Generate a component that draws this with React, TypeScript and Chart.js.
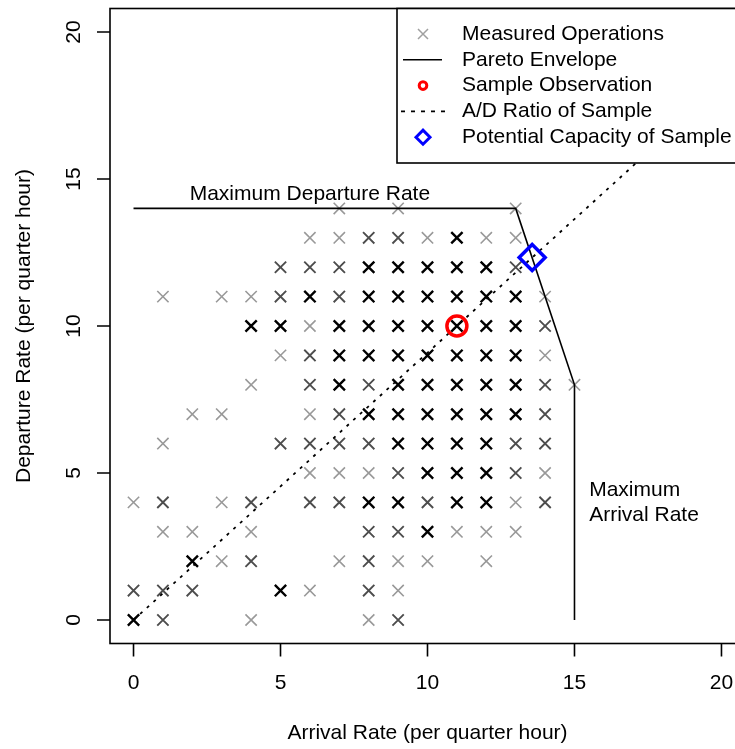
import React, { useEffect, useRef } from 'react';
import { Chart, registerables } from 'chart.js';

Chart.register(...registerables);

// ---------- data ----------
const xTicks = [0, 5, 10, 15, 20];
const yTicks = [0, 5, 10, 15, 20];

// measured operations [arrivals, departures], grouped by how often they occur (shade)
const lightOps: [number, number][] = [
  [7, 14], [9, 14], [13, 14],
  [6, 13], [7, 13], [10, 13], [12, 13], [13, 13],
  [1, 11], [3, 11], [4, 11], [14, 11],
  [6, 10],
  [5, 9], [14, 9],
  [4, 8], [15, 8],
  [2, 7], [3, 7], [6, 7],
  [1, 6],
  [6, 5], [7, 5], [8, 5], [14, 5],
  [0, 4], [3, 4], [13, 4],
  [1, 3], [2, 3], [4, 3], [11, 3], [12, 3], [13, 3],
  [3, 2], [7, 2], [9, 2], [10, 2], [12, 2],
  [6, 1], [9, 1],
  [4, 0], [8, 0],
];
const mediumOps: [number, number][] = [
  [8, 13], [9, 13],
  [5, 12], [6, 12], [7, 12], [13, 12],
  [5, 11], [7, 11],
  [14, 10],
  [6, 9],
  [6, 8], [8, 8], [14, 8],
  [7, 7], [14, 7],
  [5, 6], [6, 6], [7, 6], [8, 6], [13, 6], [14, 6],
  [9, 5], [13, 5],
  [1, 4], [4, 4], [6, 4], [7, 4], [10, 4], [14, 4],
  [8, 3], [9, 3],
  [4, 2], [8, 2],
  [0, 1], [1, 1], [2, 1], [8, 1],
  [1, 0], [9, 0],
];
const darkOps: [number, number][] = [
  [11, 13],
  [8, 12], [9, 12], [10, 12], [11, 12], [12, 12],
  [6, 11], [8, 11], [9, 11], [10, 11], [11, 11], [12, 11], [13, 11],
  [4, 10], [5, 10], [7, 10], [8, 10], [9, 10], [10, 10], [11, 10], [12, 10], [13, 10],
  [7, 9], [8, 9], [9, 9], [10, 9], [11, 9], [12, 9], [13, 9],
  [7, 8], [9, 8], [10, 8], [11, 8], [12, 8], [13, 8],
  [8, 7], [9, 7], [10, 7], [11, 7], [12, 7], [13, 7],
  [9, 6], [10, 6], [11, 6], [12, 6],
  [10, 5], [11, 5], [12, 5],
  [8, 4], [9, 4], [11, 4], [12, 4],
  [10, 3],
  [2, 2],
  [5, 1],
  [0, 0],
];
const paretoEnvelope: [number, number][] = [[0, 14], [13, 14], [15, 8], [15, 0]];
const adRatioLine: [number, number][] = [[0, 0], [22, 20]];
const sampleObservation: [number, number][] = [[11, 10]];
const potentialCapacity: [number, number][] = [[13.56, 12.33]];

const legendLabels = [
  'Measured Operations',
  'Pareto Envelope',
  'Sample Observation',
  'A/D Ratio of Sample',
  'Potential Capacity of Sample',
];
const xTitle = 'Arrival Rate (per quarter hour)';
const yTitle = 'Departure Rate (per quarter hour)';
const departureNote = 'Maximum Departure Rate';
const departureNotePos: [number, number] = [6, 14.5];
const arrivalNote = ['Maximum', 'Arrival Rate'];
const arrivalNotePos: [number, number] = [15.5, 4];

const FONT = '21px "Liberation Sans", Arial, Helvetica, sans-serif';

const toXY = (arr: [number, number][]) => arr.map(([x, y]) => ({ x, y }));

function crossRot(ctx: CanvasRenderingContext2D, cx: number, cy: number, h: number) {
  ctx.moveTo(cx - h, cy - h);
  ctx.lineTo(cx + h, cy + h);
  ctx.moveTo(cx + h, cy - h);
  ctx.lineTo(cx - h, cy + h);
}

const rPlotPlugin = {
  id: 'rPlot',
  afterDatasetsDraw(chart: any) {
    const { ctx, chartArea: a, scales } = chart;
    const x = scales.x;
    const y = scales.y;
    ctx.save();
    ctx.strokeStyle = '#000';
    ctx.lineWidth = 1.6;
    // box
    ctx.strokeRect(a.left, a.top, a.right - a.left + 20, a.bottom - a.top);
    // ticks
    ctx.beginPath();
    xTicks.forEach((v) => {
      const px = x.getPixelForValue(v);
      ctx.moveTo(px, a.bottom);
      ctx.lineTo(px, a.bottom + 13);
    });
    yTicks.forEach((v) => {
      const py = y.getPixelForValue(v);
      ctx.moveTo(a.left, py);
      ctx.lineTo(a.left - 13, py);
    });
    ctx.stroke();

    ctx.fillStyle = '#000';
    ctx.font = FONT;
    ctx.textAlign = 'center';
    ctx.textBaseline = 'alphabetic';
    xTicks.forEach((v) => ctx.fillText(String(v), x.getPixelForValue(v), a.bottom + 45));
    ctx.fillText(xTitle, x.getPixelForValue(10), a.bottom + 95);

    yTicks.forEach((v) => {
      ctx.save();
      ctx.translate(a.left - 30, y.getPixelForValue(v));
      ctx.rotate(-Math.PI / 2);
      ctx.fillText(String(v), 0, 0);
      ctx.restore();
    });
    ctx.save();
    ctx.translate(a.left - 80, y.getPixelForValue(10));
    ctx.rotate(-Math.PI / 2);
    ctx.fillText(yTitle, 0, 0);
    ctx.restore();

    // annotations
    ctx.textBaseline = 'middle';
    ctx.textAlign = 'center';
    ctx.fillText(departureNote, x.getPixelForValue(departureNotePos[0]), y.getPixelForValue(departureNotePos[1]));
    ctx.textAlign = 'left';
    const ax = x.getPixelForValue(arrivalNotePos[0]);
    const ay = y.getPixelForValue(arrivalNotePos[1]);
    ctx.fillText(arrivalNote[0], ax, ay - 12.5);
    ctx.fillText(arrivalNote[1], ax, ay + 12.5);
    ctx.restore();
  },
  afterDraw(chart: any) {
    const { ctx, chartArea: a } = chart;
    ctx.save();
    const left = 397;
    const top = a.top;
    const bottom = a.top + 154.5;
    ctx.fillStyle = '#fff';
    ctx.fillRect(left, top, 400, bottom - top);
    ctx.strokeStyle = '#000';
    ctx.lineWidth = 1.6;
    ctx.strokeRect(left, top, 400, bottom - top);

    const sx = 423;
    const tx = 462;
    const rows = legendLabels.map((_, i) => top + 25.5 + i * 25.8);

    // measured ops
    ctx.strokeStyle = '#a0a0a0';
    ctx.lineWidth = 1.5;
    ctx.beginPath();
    crossRot(ctx, sx, rows[0], 5);
    ctx.stroke();
    // pareto
    ctx.strokeStyle = '#000';
    ctx.lineWidth = 1.6;
    ctx.beginPath();
    ctx.moveTo(403, rows[1]);
    ctx.lineTo(442, rows[1]);
    ctx.stroke();
    // sample obs
    ctx.strokeStyle = '#ff0000';
    ctx.lineWidth = 3;
    ctx.beginPath();
    ctx.arc(sx, rows[2], 3.8, 0, Math.PI * 2);
    ctx.stroke();
    // ad ratio
    ctx.strokeStyle = '#000';
    ctx.lineWidth = 1.6;
    ctx.setLineDash([4, 6]);
    ctx.beginPath();
    ctx.moveTo(401, rows[3]);
    ctx.lineTo(445, rows[3]);
    ctx.stroke();
    ctx.setLineDash([]);
    // potential capacity
    ctx.strokeStyle = '#0000ff';
    ctx.lineWidth = 3;
    ctx.beginPath();
    ctx.moveTo(sx - 7, rows[4]);
    ctx.lineTo(sx, rows[4] - 7);
    ctx.lineTo(sx + 7, rows[4]);
    ctx.lineTo(sx, rows[4] + 7);
    ctx.closePath();
    ctx.stroke();

    ctx.fillStyle = '#000';
    ctx.font = FONT;
    ctx.textAlign = 'left';
    ctx.textBaseline = 'middle';
    legendLabels.forEach((t, i) => ctx.fillText(t, tx, rows[i]));
    ctx.restore();
  },
};

export default function App() {
  const ref = useRef<HTMLCanvasElement | null>(null);
  useEffect(() => {
    if (!ref.current) return;
    const transparent = 'rgba(0,0,0,0)';
    const chart = new Chart(ref.current, {
      type: 'scatter',
      data: {
        datasets: [
          {
            label: 'Potential Capacity of Sample',
            data: toXY(potentialCapacity),
            pointStyle: 'rectRot',
            pointRadius: 13,
            borderColor: '#0000ff',
            backgroundColor: transparent,
            borderWidth: 3.5,
            order: 1,
          },
          {
            label: 'Sample Observation',
            data: toXY(sampleObservation),
            pointStyle: 'circle',
            pointRadius: 10,
            borderColor: '#ff0000',
            backgroundColor: transparent,
            borderWidth: 3.5,
            order: 2,
          },
          {
            label: 'A/D Ratio of Sample',
            data: toXY(adRatioLine),
            showLine: true,
            pointRadius: 0,
            borderColor: '#000',
            borderWidth: 1.8,
            borderDash: [3, 6],
            order: 3,
          },
          {
            label: 'Pareto Envelope',
            data: toXY(paretoEnvelope),
            showLine: true,
            pointRadius: 0,
            borderColor: '#000',
            borderWidth: 1.6,
            order: 4,
          },
          {
            label: 'Measured Operations (frequent)',
            data: toXY(darkOps),
            pointStyle: 'crossRot',
            pointRadius: 8,
            borderColor: '#000000',
            borderWidth: 2.4,
            order: 5,
          },
          {
            label: 'Measured Operations (some)',
            data: toXY(mediumOps),
            pointStyle: 'crossRot',
            pointRadius: 8,
            borderColor: '#4d4d4d',
            borderWidth: 1.9,
            order: 6,
          },
          {
            label: 'Measured Operations',
            data: toXY(lightOps),
            pointStyle: 'crossRot',
            pointRadius: 8,
            borderColor: '#999999',
            borderWidth: 1.6,
            order: 7,
          },
        ],
      },
      options: {
        animation: false,
        responsive: false,
        devicePixelRatio: 1,
        layout: { autoPadding: false, padding: { top: 8.5, left: 110, right: 0, bottom: 105.5 } },
        plugins: { legend: { display: false }, tooltip: { enabled: false } },
        events: [],
        scales: {
          x: { type: 'linear', min: -0.8, max: 20.46, display: false },
          y: { type: 'linear', min: -0.8, max: 20.8, display: false },
        },
      },
      plugins: [rPlotPlugin],
    } as any);
    return () => chart.destroy();
  }, []);
  return (
    <div style={{ position: 'fixed', left: 0, top: 0, width: 735, height: 749, background: '#fff' }}>
      <canvas ref={ref} width={735} height={749} style={{ display: 'block', width: 735, height: 749 }} />
    </div>
  );
}
